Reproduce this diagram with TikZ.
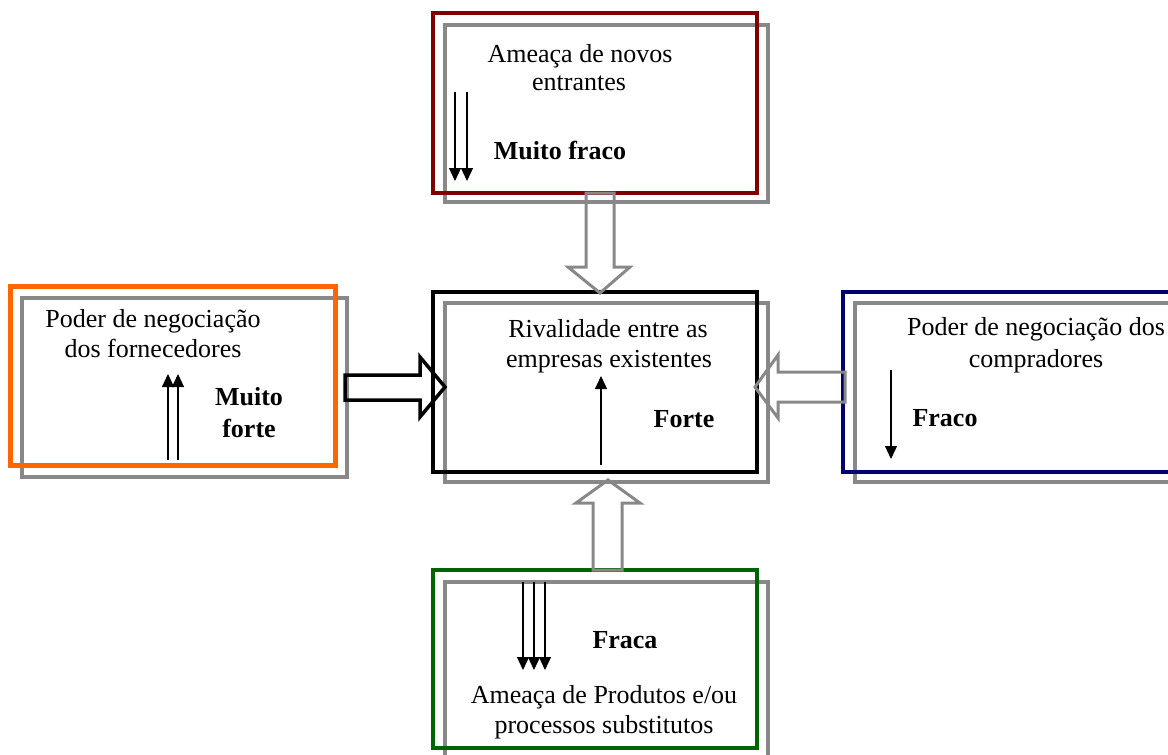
\documentclass[tikz,border=0pt]{standalone}
\usepackage{fontspec}
\setmainfont{Liberation Serif}
\usetikzlibrary{arrows.meta}
\definecolor{boxred}{RGB}{128,0,0}
\definecolor{boxorange}{RGB}{255,102,0}
\definecolor{boxnavy}{RGB}{0,0,110}
\definecolor{boxgreen}{RGB}{0,100,0}
\definecolor{shadowgray}{RGB}{136,136,136}
\begin{document}
\begin{tikzpicture}[x=1pt,y=-1pt,
  frame/.style={draw, line width=4, inner sep=0, outer sep=0},
  shadowframe/.style={frame, draw=shadowgray},
  label/.style={anchor=base, inner sep=0, font=\fontsize{26}{30}\selectfont},
  boldlabel/.style={label, font=\fontsize{26}{30}\selectfont\bfseries},
  blockgray/.style={draw=shadowgray, line width=3, line join=miter},
  blockblack/.style={draw=black, line width=3.5, line join=miter},
  thin/.style={line width=1.2, -{Triangle[width=12,length=13]}}
]
\path[use as bounding box, clip] (0,0) rectangle (1168,755);

% grey shadow frames
\node[shadowframe, minimum width=323, minimum height=177] (entrants-s) at (606.5,113.5) {};
\node[shadowframe, minimum width=325, minimum height=179] (suppliers-s) at (184.5,387.5) {};
\node[shadowframe, minimum width=323, minimum height=179] (rivalry-s) at (606.5,392.5) {};
\node[shadowframe, minimum width=340, minimum height=179] (buyers-s) at (1025,392.5) {};
\node[shadowframe, minimum width=323, minimum height=190] (substitutes-s) at (606.5,677) {};

% coloured frames
\node[frame, draw=boxred, minimum width=324, minimum height=180] (entrants) at (595,103) {};
\node[frame, draw=boxorange, line width=5, minimum width=325, minimum height=179] (suppliers) at (172.5,375.5) {};
\node[frame, draw=black, minimum width=324, minimum height=180] (rivalry) at (595,382) {};
\node[frame, draw=boxnavy, line width=4.5, minimum width=340, minimum height=180] (buyers) at (1013,382) {};
\node[frame, draw=boxgreen, minimum width=324, minimum height=178] (substitutes) at (595,659) {};

% block arrows towards the rivalry box
\draw[blockgray]
  ([shift={(-9,0)}]entrants.south) -- ([shift={(-9,-25)}]rivalry.north)
  -- ([shift={(-27,-25)}]rivalry.north) -- ([shift={(5,1)}]rivalry.north)
  -- ([shift={(35,-25)}]rivalry.north) -- ([shift={(19,-25)}]rivalry.north)
  -- ([shift={(19,0)}]entrants.south) -- cycle;
\draw[blockblack]
  ([shift={(-2,-12.5)}]suppliers-s.east) -- ([shift={(-13,-7)}]rivalry.west)
  -- ([shift={(-13,-25)}]rivalry.west) -- ([shift={(12,5)}]rivalry.west)
  -- ([shift={(-13,35)}]rivalry.west) -- ([shift={(-13,18)}]rivalry.west)
  -- ([shift={(-2,12.5)}]suppliers-s.east) -- cycle;
\draw[blockgray]
  ([shift={(2,-10)}]buyers.west) -- ([shift={(21,-10)}]rivalry.east)
  -- ([shift={(21,-27)}]rivalry.east) -- ([shift={(-2,5)}]rivalry.east)
  -- ([shift={(21,36)}]rivalry.east) -- ([shift={(21,20)}]rivalry.east)
  -- ([shift={(2,20)}]buyers.west) -- cycle;
\draw[blockgray]
  ([shift={(-2,0)}]substitutes.north) -- ([shift={(-13.5,21)}]rivalry-s.south)
  -- ([shift={(-30.5,21)}]rivalry-s.south) -- ([shift={(1.5,-2)}]rivalry-s.south)
  -- ([shift={(33.5,21)}]rivalry-s.south) -- ([shift={(15.5,21)}]rivalry-s.south)
  -- ([shift={(27,0)}]substitutes.north) -- cycle;

% strength indicators
\draw[thin] (455,92) -- (455,181);
\draw[thin] (467,92) -- (467,181);
\draw[thin] (168,460) -- (168,374);
\draw[thin] (178,460) -- (178,374);
\draw[thin] (601,465) -- (601,376);
\draw[thin] (891,370) -- (891,459);
\draw[thin] (523,582) -- (523,670);
\draw[thin] (534,582) -- (534,670);
\draw[thin] (545,582) -- (545,670);

% texts
\node[label] (entrants-t1) at (580,62) {Ameaça de novos};
\node[label] (entrants-t2) at (579,90) {entrantes};
\node[boldlabel] (entrants-v) at (560,159) {Muito fraco};

\node[label] (suppliers-t1) at (153,327) {Poder de negociação};
\node[label] (suppliers-t2) at (153,357) {dos fornecedores};
\node[boldlabel] (suppliers-v1) at (249,405) {Muito};
\node[boldlabel] (suppliers-v2) at (249,437) {forte};

\node[label] (rivalry-t1) at (608,337) {Rivalidade entre as};
\node[label] (rivalry-t2) at (609,367) {empresas existentes};
\node[boldlabel] (rivalry-v) at (684,427) {Forte};

\node[label] (buyers-t1) at (1036,335) {Poder de negociação dos};
\node[label] (buyers-t2) at (1036,367) {compradores};
\node[boldlabel] (buyers-v) at (945,426) {Fraco};

\node[boldlabel] (substitutes-v) at (625,648) {Fraca};
\node[label] (substitutes-t1) at (604,703) {Ameaça de Produtos e/ou};
\node[label] (substitutes-t2) at (604,733) {processos substitutos};
\end{tikzpicture}
\end{document}
